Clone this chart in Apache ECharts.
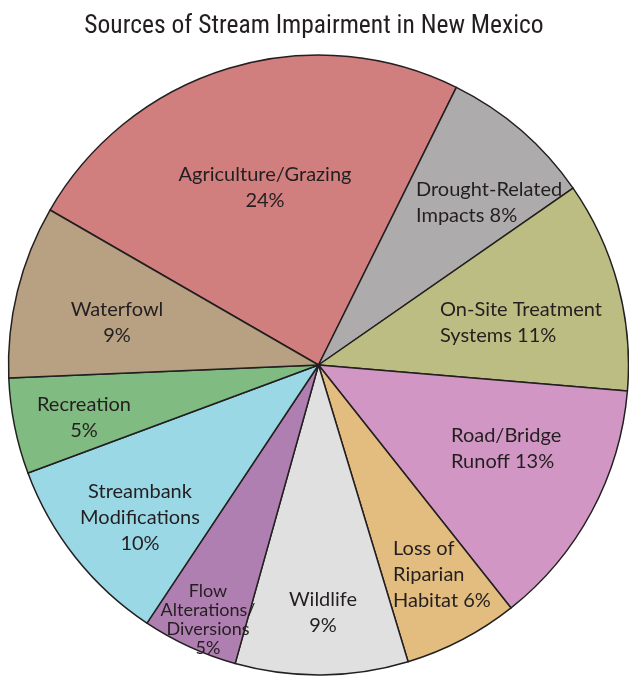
<!DOCTYPE html>
<html>
<head>
<meta charset="utf-8">
<script src="https://cdn.jsdelivr.net/npm/echarts@6/dist/echarts.min.js"></script>
<style>
html,body{margin:0;padding:0;background:#fff;}
#chart{width:629px;height:678px;}
</style>
</head>
<body>
<div id="chart"></div>
<script>
// Data
var categories = ['Agriculture/Grazing', 'Drought-Related Impacts', 'On-Site Treatment Systems', 'Road/Bridge Runoff', 'Loss of Riparian Habitat', 'Wildlife', 'Flow Alterations/Diversions', 'Streambank Modifications', 'Recreation', 'Waterfowl'];
var values = [24, 8, 11, 13, 6, 9, 5, 10, 5, 9];
var labelTemplates = [
  'Agriculture/Grazing\n{v}%',
  'Drought-Related\nImpacts {v}%',
  'On-Site Treatment\nSystems {v}%',
  'Road/Bridge\nRunoff {v}%',
  'Loss of\nRiparian\nHabitat {v}%',
  'Wildlife\n{v}%',
  'Flow\nAlterations/\nDiversions\n{v}%',
  'Streambank\nModifications\n{v}%',
  'Recreation\n{v}%',
  'Waterfowl\n{v}%'
];
var colors = ['#d17e7e', '#adabac', '#bcbd82', '#d196c3', '#e3bd7f', '#e0e0e0', '#b07fb1', '#9bd8e6', '#80bb82', '#b8a082'];

// Label placement (styling)
var labelPlace = [
  {x: 265, y: 188, align: 'center'},
  {x: 416, y: 203, align: 'left'},
  {x: 440, y: 323, align: 'left'},
  {x: 451, y: 449, align: 'left'},
  {x: 393, y: 575, align: 'left'},
  {x: 323, y: 613, align: 'center'},
  {x: 208, y: 620, align: 'center'},
  {x: 140, y: 518, align: 'center'},
  {x: 84, y: 418, align: 'center'},
  {x: 117, y: 323, align: 'center'}
];

var chart = echarts.init(document.getElementById('chart'), null, {renderer: 'canvas'});
var data = categories.map(function (c, i) {
  var item = {
    name: c,
    value: values[i],
    itemStyle: {color: colors[i]},
    label: {align: labelPlace[i].align}
  };
  if (i === 6) {
    item.label.fontSize = 18;
    item.label.lineHeight = 19;
  }
  return item;
});

chart.setOption({
  animation: false,
  title: {
    text: 'Sources of Stream Impairment in New Mexico',
    left: 309,
    textAlign: 'center',
    top: 9,
    textStyle: {
      fontFamily: '"Liberation Sans Narrow", "Roboto Condensed", "DejaVu Sans Condensed", sans-serif',
      fontWeight: 'normal',
      fontSize: 25.5,
      color: '#231f20'
    }
  },
  series: [{
    type: 'pie',
    center: [318.5, 365],
    radius: [0, 310],
    startAngle: 150,
    clockwise: true,
    avoidLabelOverlap: false,
    silent: true,
    itemStyle: {borderColor: '#231f20', borderWidth: 1.5},
    label: {
      show: true,
      position: 'inside',
      color: '#231f20',
      fontFamily: 'Lato, "Open Sans", sans-serif',
      fontSize: 20,
      lineHeight: 26,
      formatter: function (p) {
        return labelTemplates[p.dataIndex].replace('{v}', p.value);
      }
    },
    labelLine: {show: false},
    labelLayout: function (params) {
      var lp = labelPlace[params.dataIndex];
      return {x: lp.x, y: lp.y, align: lp.align, verticalAlign: 'middle'};
    },
    data: data
  }]
});
</script>
</body>
</html>
